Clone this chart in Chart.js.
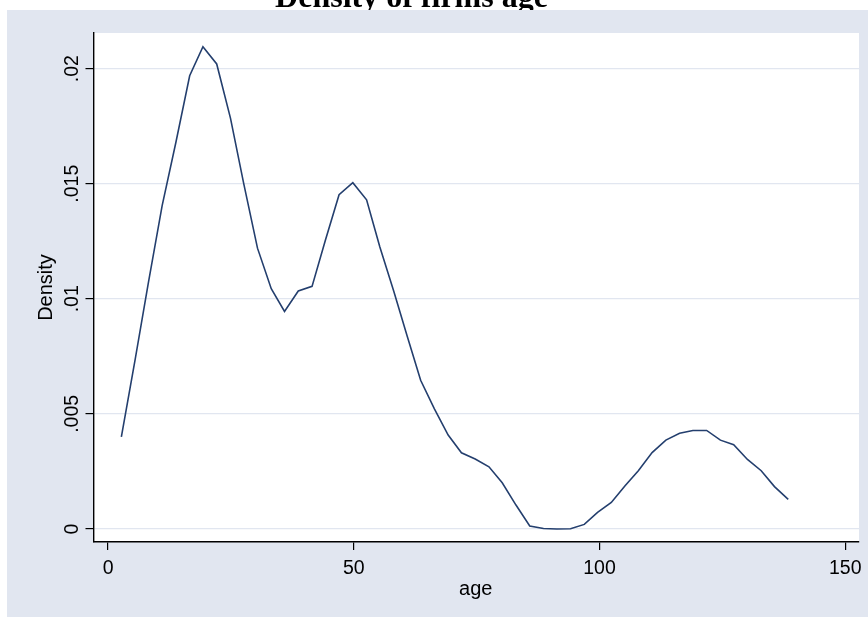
<!DOCTYPE html>
<html>
<head>
<meta charset="utf-8">
<script src="https://cdn.jsdelivr.net/npm/chart.js@4.4.1/dist/chart.umd.min.js"></script>
<style>
  html, body { margin: 0; padding: 0; background: #fff; }
</style>
</head>
<body>
<canvas id="chart" width="868" height="617"></canvas>
<script>
(() => {
  "use strict";

  // kdensity evaluation points (age) and estimated density
  const ageValues = [
    2.7, 5.5, 8.2, 11.0, 13.8, 16.6, 19.3, 22.1, 24.9, 27.6,
    30.4, 33.2, 35.9, 38.7, 41.5, 44.2, 47.0, 49.8, 52.6, 55.3,
    58.1, 60.9, 63.6, 66.4, 69.2, 71.9, 74.7, 77.5, 80.2, 83.0,
    85.8, 88.6, 91.3, 94.1, 96.9, 99.6, 102.4, 105.2, 107.9, 110.7,
    113.5, 116.3, 119.0, 121.8, 124.6, 127.3, 130.1, 132.9, 135.6, 138.4
  ];
  const densityValues = [
    0.00400, 0.00736, 0.01070, 0.01405, 0.01680, 0.01969, 0.02095, 0.02020, 0.01785, 0.01500,
    0.01220, 0.01044, 0.00945, 0.01034, 0.01054, 0.01253, 0.01452, 0.01504, 0.01430, 0.01225,
    0.01035, 0.00835, 0.00646, 0.00522, 0.00408, 0.00331, 0.00304, 0.00270, 0.00201, 0.00104,
    0.00013, 0.00002, 0.00000, 0.00001, 0.00020, 0.00072, 0.00115, 0.00188, 0.00253, 0.00332,
    0.00386, 0.00416, 0.00428, 0.00428, 0.00386, 0.00366, 0.00302, 0.00253, 0.00184, 0.00129
  ];

  const xTickValues = [0, 50, 100, 150];
  const xTickLabels = ["0", "50", "100", "150"];
  const yTickValues = [0, 0.005, 0.01, 0.015, 0.02];
  const yTickLabels = ["0", ".005", ".01", ".015", ".02"];

  const chartTitle = "Density of firms age";
  const xAxisTitle = "age";
  const yAxisTitle = "Density";

  const colors = {
    panel: "#e1e6f0",
    plot: "#ffffff",
    grid: "#e1e6f0",
    axis: "#000000",
    line: "#243f6e",
    text: "#000000",
  };
  const sansFont = "'Liberation Sans', Arial, sans-serif";
  const serifFont = "'Liberation Serif', 'Times New Roman', serif";

  const stataFrame = {
    id: "stataFrame",
    beforeDraw(chart) {
      const { ctx, chartArea } = chart;
      ctx.save();
      ctx.fillStyle = colors.text;
      ctx.font = "bold 32px " + serifFont;
      ctx.textAlign = "center";
      ctx.textBaseline = "alphabetic";
      ctx.fillText(chartTitle, 411.5, 6.5);
      ctx.fillStyle = colors.panel;
      ctx.fillRect(7, 10, chart.width - 7, chart.height - 10);
      ctx.fillStyle = colors.plot;
      ctx.fillRect(chartArea.left, chartArea.top,
        chartArea.right - chartArea.left, chartArea.bottom - chartArea.top);
      ctx.restore();
    },
    afterDraw(chart) {
      const { ctx, chartArea, scales } = chart;
      ctx.save();
      ctx.fillStyle = colors.text;
      ctx.font = "19.5px " + sansFont;

      ctx.textAlign = "center";
      ctx.textBaseline = "alphabetic";
      xTickValues.forEach((v, i) => {
        ctx.fillText(xTickLabels[i], scales.x.getPixelForValue(v), 573.5);
      });
      ctx.font = "20px " + sansFont;
      ctx.fillText(xAxisTitle, (chartArea.left + chartArea.right) / 2 - 0.5, 595);

      ctx.font = "19.5px " + sansFont;
      yTickValues.forEach((v, i) => {
        ctx.save();
        ctx.translate(77.5, scales.y.getPixelForValue(v));
        ctx.rotate(-Math.PI / 2);
        ctx.fillText(yTickLabels[i], 0, 0);
        ctx.restore();
      });
      ctx.font = "20px " + sansFont;
      ctx.translate(52, (chartArea.top + chartArea.bottom) / 2);
      ctx.rotate(-Math.PI / 2);
      ctx.fillText(yAxisTitle, 0, 0);
      ctx.restore();
    },
  };

  function init() {
    const canvas = document.getElementById("chart");
    new Chart(canvas, {
      type: "line",
      data: {
        datasets: [{
          data: ageValues.map((a, i) => ({ x: a, y: densityValues[i] })),
          borderColor: colors.line,
          borderWidth: 1.6,
          pointRadius: 0,
          tension: 0,
          fill: false,
        }],
      },
      options: {
        responsive: false,
        animation: false,
        events: [],
        layout: { padding: { left: 85.5, top: 33, right: 9, bottom: 67 } },
        plugins: { legend: { display: false }, tooltip: { enabled: false } },
        scales: {
          x: {
            type: "linear",
            min: -2.97,
            max: 152.8,
            afterBuildTicks: (scale) => { scale.ticks = xTickValues.map((v) => ({ value: v })); },
            ticks: { display: false },
            grid: {
              drawOnChartArea: false,
              color: colors.grid,
              tickColor: colors.axis,
              tickLength: 8,
              lineWidth: 1.2,
            },
            border: { display: true, color: colors.axis, width: 1.4 },
          },
          y: {
            type: "linear",
            min: -0.000565,
            max: 0.021546,
            afterBuildTicks: (scale) => { scale.ticks = yTickValues.map((v) => ({ value: v })); },
            ticks: { display: false },
            grid: {
              color: colors.grid,
              tickColor: colors.axis,
              tickLength: 8,
              lineWidth: 1.2,
            },
            border: { display: true, color: colors.axis, width: 1.4 },
          },
        },
      },
      plugins: [stataFrame],
    });
  }

  document.addEventListener("DOMContentLoaded", init);
})();
</script>
</body>
</html>
